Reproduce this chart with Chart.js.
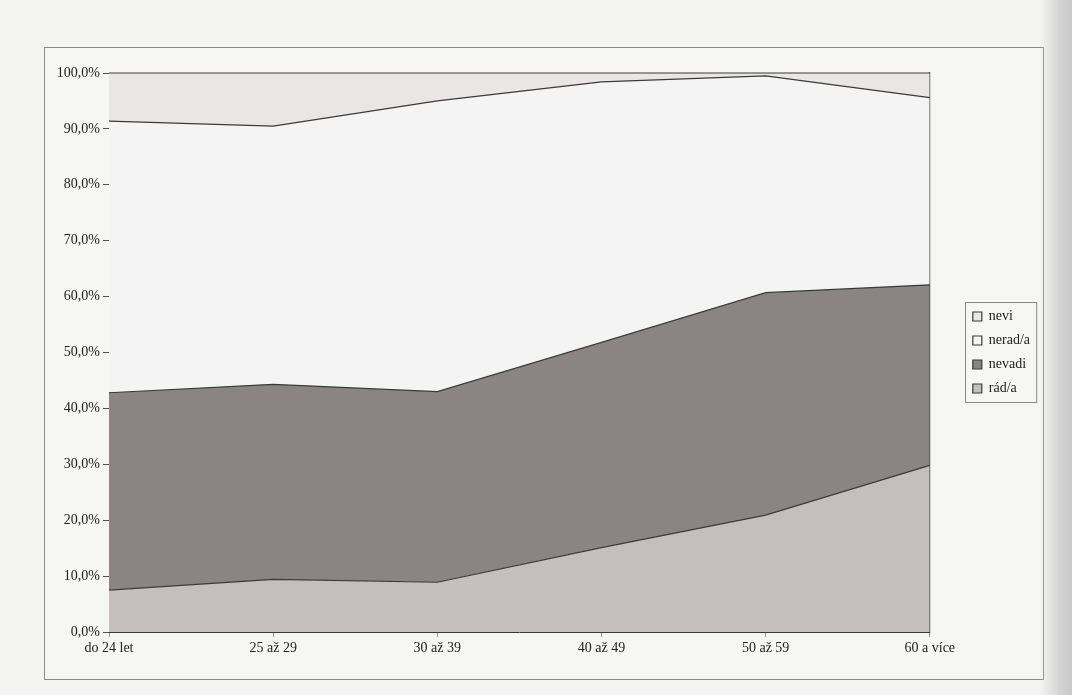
<!DOCTYPE html>
<html>
<head>
<meta charset="utf-8">
<script src="https://cdn.jsdelivr.net/npm/chart.js@4.4.0/dist/chart.umd.min.js"></script>
<style>
  html, body { margin: 0; padding: 0; }
  body { width: 1072px; height: 695px; background: #f4f4f3; position: relative; overflow: hidden; }
  #frame { position: absolute; left: 44px; top: 47px; width: 998px; height: 631px; border: 1px solid #8a8a8a; background: #f6f6f5; }
  #frame canvas { position: absolute; left: 0; top: 0; }
  #gutter { position: absolute; left: 1040px; top: 0; width: 32px; height: 695px;
    background: linear-gradient(to right, rgba(200,200,200,0) 0%, #d4d4d4 60%, #c8c8c8 100%); }
</style>
</head>
<body>
<div id="frame"><canvas id="chart" width="998" height="631"></canvas></div>
<div id="gutter"></div>
<script>
const categories = ["do 24 let", "25 až 29", "30 až 39", "40 až 49", "50 až 59", "60 a více"];
const radA = [7.5, 9.4, 8.9, 15.1, 20.9, 29.8];
const nevadi = [35.3, 34.9, 34.1, 36.7, 39.8, 32.3];
const neradA = [48.6, 46.2, 52.0, 46.6, 38.8, 33.5];
const nevi = [8.6, 9.5, 5.0, 1.6, 0.5, 4.4];

const serif = "'Liberation Serif', 'DejaVu Serif', serif";
const lineColor = "#3a3a3a";

// Chart.js has no legend border, so draw one round the legend items
const legendFrame = {
  id: "legendFrame",
  afterDraw(chart) {
    const boxes = chart.legend && chart.legend.legendHitBoxes;
    if (!boxes || !boxes.length) return;
    const left = Math.min(...boxes.map((b) => b.left)) - 8;
    const top = Math.min(...boxes.map((b) => b.top)) - 8;
    const right = Math.max(...boxes.map((b) => b.left + b.width)) + 6;
    const bottom = Math.max(...boxes.map((b) => b.top + b.height)) + 6;
    const ctx = chart.ctx;
    ctx.save();
    ctx.strokeStyle = "#8a8a8a";
    ctx.lineWidth = 1;
    ctx.strokeRect(Math.round(left) + 0.5, Math.round(top) + 0.5, right - left, bottom - top);
    ctx.restore();
  },
};

const makeSet = (label, data, color, fill) => ({
  label: label,
  data: data,
  backgroundColor: color,
  borderColor: lineColor,
  borderWidth: 1.2,
  pointRadius: 0,
  tension: 0,
  fill: fill,
  clip: 4,
});

const data = {
  labels: categories,
  datasets: [
    makeSet("rád/a", radA, "#c5bebe", "origin"),
    makeSet("nevadi", nevadi, "#8a8484", "-1"),
    makeSet("nerad/a", neradA, "#f5f4f4", "-1"),
    makeSet("nevi", nevi, "#e9e7e6", "-1"),
  ],
};

const config = {
  type: "line",
  data: data,
  options: {
    responsive: false,
    animation: false,
    layout: { padding: { top: 25, right: 3, bottom: 0, left: 0 } },
    scales: {
      x: {
        offset: false,
        grid: {
          drawOnChartArea: false,
          tickLength: 5,
          tickColor: "#9a9a9a",
        },
        border: { color: lineColor, width: 1 },
        ticks: {
          font: { family: serif, size: 14 },
          color: "#222",
          padding: 3,
          maxRotation: 0,
        },
        afterFit: (scale) => { scale.height = 47; },
      },
      y: {
        stacked: true,
        min: 0,
        max: 100,
        grid: {
          drawOnChartArea: false,
          tickLength: 6,
          tickColor: "#555",
        },
        border: { color: lineColor, width: 1 },
        ticks: {
          stepSize: 10,
          font: { family: serif, size: 14 },
          color: "#222",
          padding: 3,
          callback: (v) => v.toFixed(1).replace(".", ",") + "%",
        },
        afterFit: (scale) => { scale.width = 64; },
      },
      // empty right axis: gives the right edge line and the gap before the legend
      y2: {
        position: "right",
        min: 0,
        max: 100,
        grid: { drawOnChartArea: false, drawTicks: false },
        border: { color: lineColor, width: 1.2 },
        ticks: { display: false },
        afterFit: (scale) => { scale.width = 33; },
      },
    },
    plugins: {
      legend: {
        position: "right",
        fullSize: false,
        reverse: true,
        labels: {
          boxWidth: 9,
          boxHeight: 9,
          padding: 10,
          color: "#222",
          font: { family: serif, size: 14 },
        },
      },
      tooltip: { enabled: false },
    },
  },
  plugins: [legendFrame],
};

const chart = new Chart(document.getElementById("chart"), config);
</script>
</body>
</html>
